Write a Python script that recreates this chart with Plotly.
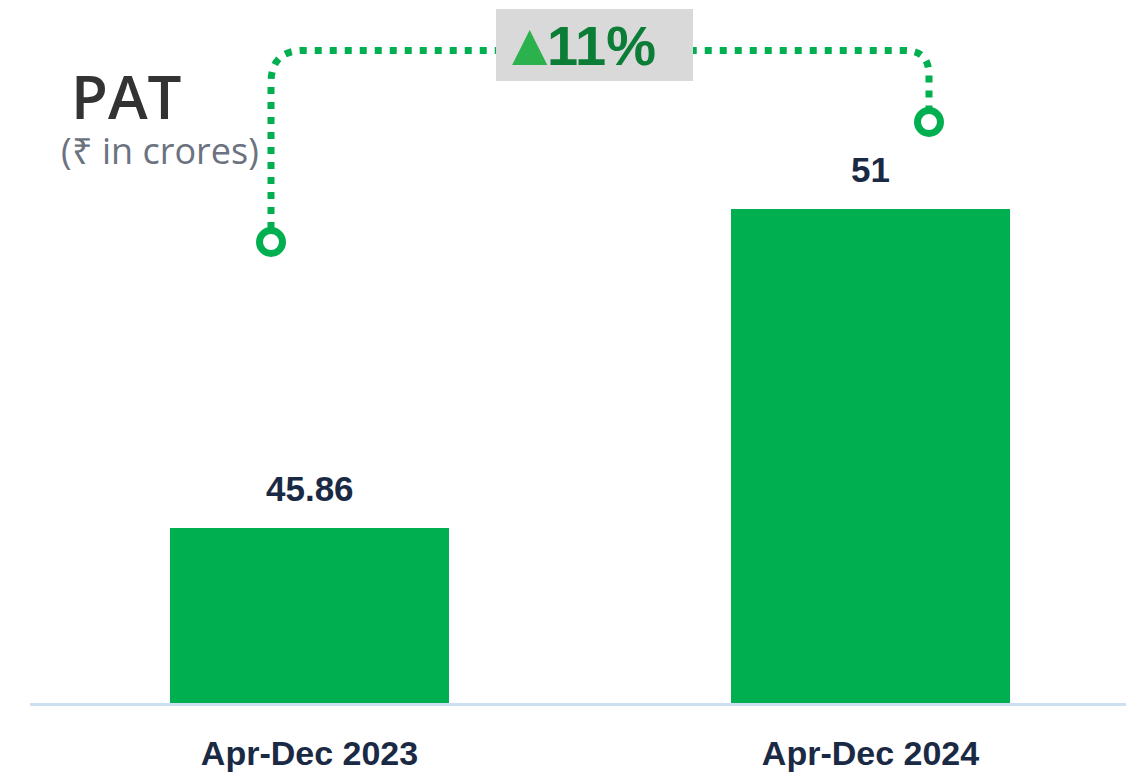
import plotly.graph_objects as go

categories = ["Apr-Dec 2023", "Apr-Dec 2024"]
pat_values = [45.86, 51]
value_labels = ["45.86", "51"]
growth_label = "11%"
title_text = "PAT"
subtitle_text = "(₹ in crores)"

BAR = "#00b050"
NAVY = "#1b2a44"

W, H = 1126, 775
L, R, T, B = 30, 0, 0, 72
PW, PH = W - L - R, H - T - B


def PX(x):
    return (x - L) / PW


def PY(y):
    return 1 - (y - T) / PH


fig = go.Figure()
fig.add_trace(go.Bar(
    x=categories, y=pat_values, marker=dict(color=BAR, line=dict(width=0)),
    width=0.497, hoverinfo="skip", showlegend=False,
))

for c, v, t in zip(categories, pat_values, value_labels):
    fig.add_annotation(
        x=c, y=v, xref="x", yref="y", text=t, showarrow=False,
        yanchor="bottom", yshift=18,
        font=dict(family="Liberation Sans, Arial", size=35, color=NAVY, weight="bold"),
    )

# decorative connector
path = (f"M {PX(271)},{PY(229)} L {PX(271)},{PY(83)} "
        f"Q {PX(271)},{PY(50.5)} {PX(303)},{PY(50.5)} "
        f"L {PX(905)},{PY(50.5)} Q {PX(929)},{PY(50.5)} {PX(929)},{PY(75)} "
        f"L {PX(929)},{PY(109)}")
shapes = [dict(type="path", path=path, xref="paper", yref="paper",
               line=dict(color=BAR, width=7, dash="7px,8px"), layer="above")]
for cx, cy in [(271, 242), (929, 122)]:
    r = 11.5
    shapes.append(dict(type="circle", xref="paper", yref="paper",
                       x0=PX(cx - r), x1=PX(cx + r), y0=PY(cy + r), y1=PY(cy - r),
                       line=dict(color=BAR, width=7), fillcolor="white", layer="above"))
shapes.append(dict(type="rect", xref="paper", yref="paper",
                   x0=PX(496), x1=PX(693), y0=PY(81), y1=PY(9),
                   fillcolor="#d9d9d9", line=dict(width=0), layer="above"))

fig.add_annotation(
    x=PX(529), y=PY(45), xref="paper", yref="paper", showarrow=False,
    xanchor="center", yanchor="middle", text="▲",
    font=dict(family="Liberation Sans, Arial", size=60, color="#2bb24c"),
)
fig.add_annotation(
    x=PX(545), y=PY(46), xref="paper", yref="paper", showarrow=False,
    xanchor="left", yanchor="middle", text=growth_label,
    font=dict(family="Liberation Sans, Arial", size=56, color="#0b7d36", weight="bold"),
)

fig.add_annotation(
    x=PX(69), y=PY(96), xref="paper", yref="paper", showarrow=False,
    xanchor="left", yanchor="middle", text=title_text,
    font=dict(family="Open Sans", size=60, color="#333333", weight=600),
)
fig.add_annotation(
    x=PX(59), y=PY(150), xref="paper", yref="paper", showarrow=False,
    xanchor="left", yanchor="middle", text=subtitle_text,
    font=dict(family="Open Sans", size=36, color="#6b7280"),
)

fig.update_layout(
    width=W, height=H, margin=dict(l=L, r=R, t=T, b=B),
    paper_bgcolor="white", plot_bgcolor="white",
    shapes=shapes, bargap=0,
    xaxis=dict(
        range=[-0.4982, 1.4554], showgrid=False, zeroline=False,
        showline=True, linecolor="#cfdff2", linewidth=3,
        ticks="outside", ticklen=18, tickcolor="rgba(0,0,0,0)",
        tickfont=dict(family="Liberation Sans, Arial", size=34, color=NAVY, weight="bold"),
    ),
    yaxis=dict(range=[43.04, 54.37], showgrid=False, zeroline=False,
               showticklabels=False, showline=False),
)

fig.write_html("out.html", config={"displayModeBar": False},
               post_script="document.body.style.margin='0';")
